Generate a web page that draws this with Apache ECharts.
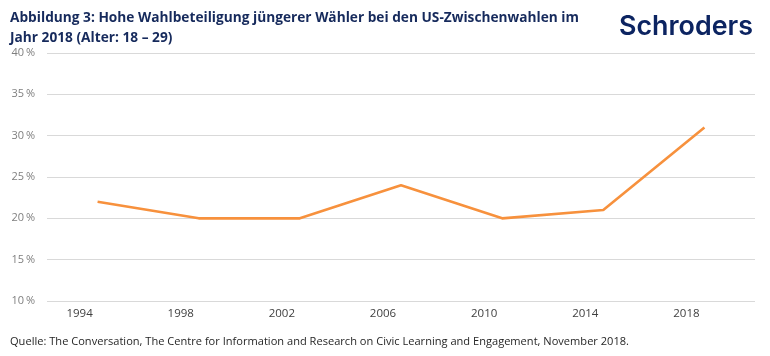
<!DOCTYPE html>
<html><head><meta charset="utf-8">
<script src="https://cdn.jsdelivr.net/npm/echarts@6/dist/echarts.min.js"></script>
<style>html,body{margin:0;padding:0;background:#fff}#c{width:770px;height:356px}</style>
</head><body><div id="c"></div>
<script>
const years = ['1994','1998','2002','2006','2010','2014','2018'];
const turnout = [22, 20, 20, 24, 20, 21, 31];
const yTicks = [10, 15, 20, 25, 30, 35, 40];
const titleLines = ['Abbildung 3: Hohe Wahlbeteiligung jüngerer Wähler bei den US-Zwischenwahlen im', 'Jahr 2018 (Alter: 18 – 29)'];
const sourceText = 'Quelle: The Conversation, The Centre for Information and Research on Civic Learning and Engagement, November 2018.';
const logoText = 'Schroders';

const cvs = document.createElement('canvas').getContext('2d');
function fit(text, font, target){ cvs.font = font; const w = cvs.measureText(text).width; return Math.min(1.2, target / w); }
const titleFont = 'bold 13.5px "Open Sans"';
const tScale = fit(titleLines[0], titleFont, 569);
const srcFont = '11px "Open Sans"';
const sScale = fit(sourceText, srcFont, 619);
const logoFont = '600 27px Inter';
const lScale = fit(logoText, logoFont, 134);

const chart = echarts.init(document.getElementById('c'), null, {renderer:'canvas'});
chart.setOption({
  animation:false,
  grid:{left:47, right:15, top:53, bottom:55, containLabel:false},
  xAxis:{type:'category', data:years, boundaryGap:true,
    axisLine:{show:false}, axisTick:{show:false},
    axisLabel:{color:'#404040', fontSize:11.5, fontFamily:'Open Sans', margin:7, padding:[0,36,0,0]}},
  yAxis:{type:'value', min:yTicks[0], max:yTicks[yTicks.length-1], interval:5,
    axisLine:{show:false}, axisTick:{show:false},
    axisLabel:{color:'#7f7f7f', fontSize:11, fontFamily:'Open Sans', margin:12, formatter:v=>v+'\u2009%'},
    splitLine:{lineStyle:{color:'#d9d9d9', width:1}}},
  series:[{type:'line', data:turnout, showSymbol:false, symbol:'none',
    lineStyle:{color:'#f7913d', width:2.6}}],
  graphic:[
    {type:'text', left:10, top:11, scaleX:tScale, style:{text:titleLines[0], font:titleFont, fill:'#162a5c'}},
    {type:'text', left:10, top:31, scaleX:tScale, style:{text:titleLines[1], font:titleFont, fill:'#162a5c'}},
    {type:'text', left:619, top:13, scaleX:lScale, style:{text:logoText, font:logoFont, fill:'#0c2461'}},
    {type:'text', left:10, top:336, scaleX:sScale, style:{text:sourceText, font:srcFont, fill:'#262626'}}
  ]
});
</script></body></html>
